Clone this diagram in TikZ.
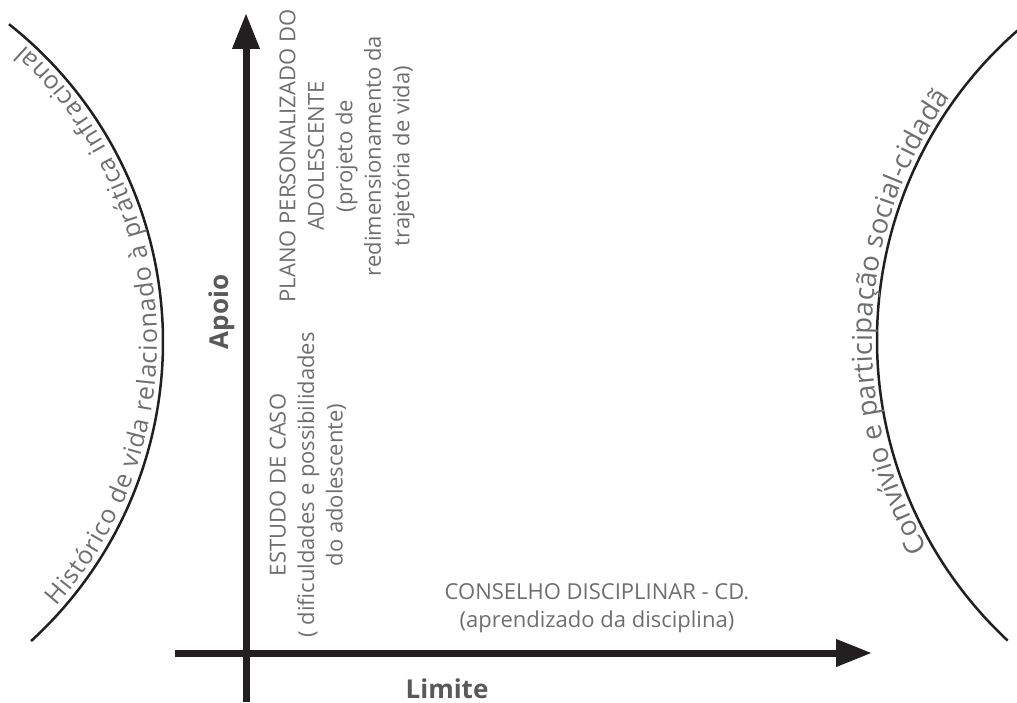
\documentclass[tikz,border=0pt]{standalone}
\usepackage{fontspec}
\setmainfont{Open Sans}
\usetikzlibrary{arrows.meta,decorations.text}
\definecolor{ink}{HTML}{231F20}
\definecolor{notegray}{HTML}{6D6E71}
\definecolor{headgray}{HTML}{58595B}
\tikzset{
  axisline/.style={draw=ink, line width=7pt, -{Triangle[length=36pt,width=26pt]}},
  sidearc/.style={draw=ink, line width=2.5pt},
  note/.style={text=notegray, font=\fontsize{22}{28.5}\selectfont, align=center, inner sep=0pt},
  axisname/.style={text=headgray, font=\bfseries\fontsize{26}{30}\selectfont, inner sep=0pt, anchor=base},
}
\newcommand\leftarcfont{\color{notegray}\fontsize{25}{25}\selectfont}
\newcommand\rightarcfont{\color{notegray}\fontsize{27.5}{27.5}\selectfont}
\begin{document}
\begin{tikzpicture}[x=1pt,y=1pt]
\useasboundingbox (0,0) rectangle (1017,702);
\clip (0,0) rectangle (1017,702);

% centres of the two bounding arcs
\coordinate (lc) at (-242,360);
\coordinate (rc) at (1288,362);

% left and right arcs
\draw[sidearc] ([shift={(-47.6:405)}]lc) arc[start angle=-47.6,end angle=51.7,radius=405];
\draw[sidearc] ([shift={(227:411)}]rc) arc[start angle=227,end angle=128,radius=411];

% texts set along the arcs
\path[decorate,decoration={text along path,text align={fit to path},
  text={|\leftarcfont|Histórico de vida relacionado à prática infracional}}]
  ([shift={(-41.5:399)}]lc) arc[start angle=-41.5,end angle=48,radius=399];
\path[decorate,decoration={text along path,text align={fit to path},
  text={|\rightarcfont|Convívio e participação social-cidadã}}]
  ([shift={(210:416)}]rc) arc[start angle=210,end angle=144.3,radius=416];

% axes
\coordinate (vbot) at (246,0);
\coordinate (vtop) at (246,689);
\coordinate (hleft) at (175,49);
\coordinate (htip) at (872,49);
\draw[axisline] (vbot) -- (vtop);
\draw[axisline] (hleft) -- (htip);

% axis names
\node[axisname, rotate=90] (apoio) at (228,390) {Apoio};
\node[axisname] (limite) at (447,4) {Limite};

% notes in the quadrant
\node[note, rotate=90] (estudo) at (308,217)
  {ESTUDO DE CASO\\( dificuldades e possibilidades\\do adolescente)};
\node[note, rotate=90] (plano) at (347,546)
  {PLANO PERSONALIZADO DO\\ADOLESCENTE\\(projeto de\\redimensionamento da\\trajetória de vida)};
\node[note] (conselho) at (597,94)
  {CONSELHO DISCIPLINAR - CD.\\(aprendizado da disciplina)};
\end{tikzpicture}
\end{document}
